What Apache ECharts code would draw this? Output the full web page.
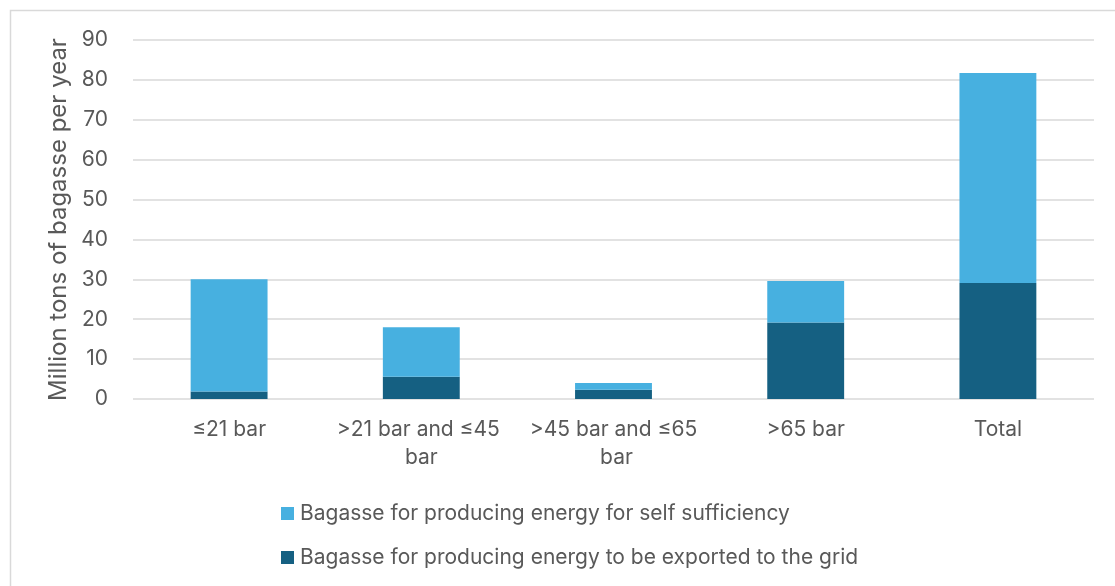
<!DOCTYPE html>
<html>
<head>
<meta charset="utf-8">
<script src="https://cdn.jsdelivr.net/npm/echarts@6/dist/echarts.min.js"></script>
<style>
  html, body { margin: 0; padding: 0; background: #ffffff; }
  #chart { width: 1115px; height: 586px; }
</style>
</head>
<body>
<div id="chart"></div>
<script>
// Boiler pressure classes
const categories = ['≤21 bar', '>21 bar and ≤45 bar', '>45 bar and ≤65 bar', '>65 bar', 'Total'];

// Million tons of bagasse per year
const exportedToGrid = [1.9, 5.6, 2.3, 19.2, 29.1];
const selfSufficiency = [28.1, 12.4, 1.7, 10.4, 52.6];

const seriesNames = [
  'Bagasse for producing energy for self sufficiency',
  'Bagasse for producing energy to be exported to the grid'
];

const yTicks = { min: 0, max: 90, interval: 10 };
const yTitle = 'Million tons of bagasse per year';

const FONT = 'Inter, "Liberation Sans", sans-serif';
const TEXT = '#595959';

const chart = echarts.init(document.getElementById('chart'), null, { renderer: 'canvas' });

chart.setOption({
  animation: false,
  backgroundColor: '#ffffff',
  textStyle: { fontFamily: FONT, color: TEXT },
  graphic: [{
    type: 'rect',
    shape: { x: 10.5, y: 10.5, width: 1300, height: 800 },
    style: { fill: 'none', stroke: '#d9d9d9', lineWidth: 1.5 },
    silent: true,
    z: -10
  }],
  grid: { left: 133, right: 21, top: 40, bottom: 187, containLabel: false },
  legend: {
    orient: 'vertical',
    left: 276,
    top: 497,
    itemWidth: 13,
    itemHeight: 13,
    itemGap: 21,
    icon: 'rect',
    data: [seriesNames[0], seriesNames[1]],
    textStyle: { fontFamily: FONT, fontSize: 21, color: TEXT, lineHeight: 23, padding: [0, 0, 0, 1] }
  },
  xAxis: {
    type: 'category',
    data: categories,
    axisLine: { show: false },
    axisTick: { show: false },
    axisLabel: {
      interval: 0,
      margin: 17,
      fontFamily: FONT,
      fontSize: 21,
      color: TEXT,
      lineHeight: 28,
      width: 176,
      overflow: 'break'
    }
  },
  yAxis: {
    type: 'value',
    min: yTicks.min,
    max: yTicks.max,
    interval: yTicks.interval,
    name: yTitle,
    nameLocation: 'middle',
    nameGap: 60,
    nameTextStyle: { fontFamily: FONT, fontSize: 24, color: TEXT },
    axisLine: { show: false },
    axisTick: { show: false },
    axisLabel: { margin: 25, fontFamily: FONT, fontSize: 21, color: TEXT },
    splitLine: { lineStyle: { color: '#d9d9d9', width: 1.5 } }
  },
  series: [
    {
      name: seriesNames[1],
      type: 'bar',
      stack: 'total',
      data: exportedToGrid,
      barWidth: '40%',
      itemStyle: { color: '#156082' }
    },
    {
      name: seriesNames[0],
      type: 'bar',
      stack: 'total',
      data: selfSufficiency,
      barWidth: '40%',
      itemStyle: { color: '#47b0e0' }
    }
  ]
});
</script>
</body>
</html>
